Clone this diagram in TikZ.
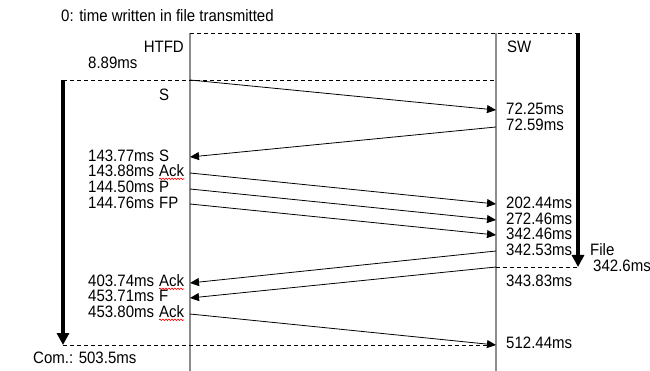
\documentclass[tikz,border=0pt]{standalone}
\usepackage{fontspec}
\setmainfont{Liberation Sans}[FakeStretch=0.91]
\usetikzlibrary{arrows.meta,decorations.pathmorphing}

\begin{document}
\begin{tikzpicture}[x=1pt,y=-1pt,font=\fontsize{16.5}{16.5}\selectfont]
\tikzset{lbl/.style={inner sep=0pt,text height=0.72em,text depth=0pt,anchor=west},
         life/.style={draw=gray!90,line width=1.3pt},
         msg/.style={line width=0.8pt,-{Triangle[length=9pt,width=8pt]}},
         dline/.style={line width=0.8pt,dash pattern=on 4pt off 3pt},
         bigarrow/.style={line width=3.5pt,-{Triangle[length=12pt,width=12pt]}},
         spell/.style={red,line width=0.6pt,decorate,decoration={snake,amplitude=0.8pt,segment length=3pt}}}

\useasboundingbox (0,0) rectangle (650,371);

% lifelines and frame
\coordinate (ht) at (190,33); \coordinate (hb) at (190,371);
\coordinate (st) at (496,33); \coordinate (sb) at (496,371);
\coordinate (ft) at (578,33); \coordinate (fb) at (578,267);
\coordinate (lt) at (63,80);  \coordinate (lb) at (63,345);
\coordinate (s0) at (496,80); \coordinate (f0) at (496,267);
\coordinate (e0) at (490,345);
\draw[life] (ht) -- (hb);
\draw[life] (st) -- (sb);
\draw[dline] (ht) -- (ft);
\draw[dline] (lt) -- (s0);
\draw[dline] (f0) -- (fb);
\draw[dline] (lb) -- (e0);
\draw[bigarrow] (ft) -- (fb);
\draw[bigarrow] (lt) -- (lb);

% messages
\coordinate (h1) at (190,80);  \coordinate (s1) at (496,110);
\coordinate (s2) at (496,127); \coordinate (h2) at (190,157);
\coordinate (h3) at (190,173); \coordinate (s3) at (496,204);
\coordinate (h4) at (190,189); \coordinate (s4) at (496,220);
\coordinate (h5) at (190,204); \coordinate (s5) at (496,235);
\coordinate (s6) at (496,251); \coordinate (h6) at (190,283);
\coordinate (s7) at (496,267); \coordinate (h7) at (190,298);
\coordinate (h8) at (190,314); \coordinate (s8) at (496,345);
\draw[msg] (h1) -- (s1);
\draw[msg] (s2) -- (h2);
\draw[msg] (h3) -- (s3);
\draw[msg] (h4) -- (s4);
\draw[msg] (h5) -- (s5);
\draw[msg] (s6) -- (h6);
\draw[msg] (s7) -- (h7);
\draw[msg] (h8) -- (s8);

% texts
\node[lbl] (title) at (61,18) {0: time written in file transmitted};
\node[lbl,anchor=east] (htfd) at (184,49) {HTFD};
\node[lbl] (sw) at (507,49) {SW};
\node[lbl] (t0) at (88,65) {8.89ms};
\node[lbl] (syn) at (159,97) {S};

\node[lbl] (t1) at (88,158) {143.77ms}; \node[lbl] (k1) at (159,158) {S};
\node[lbl] (t2) at (88,173) {143.88ms}; \node[lbl] (k2) at (159,173) {Ack};
\node[lbl] (t3) at (88,189) {144.50ms}; \node[lbl] (k3) at (159,189) {P};
\node[lbl] (t4) at (88,205) {144.76ms}; \node[lbl] (k4) at (159,205) {FP};
\node[lbl] (t5) at (88,283) {403.74ms}; \node[lbl] (k5) at (159,283) {Ack};
\node[lbl] (t6) at (88,298) {453.71ms}; \node[lbl] (k6) at (159,298) {F};
\node[lbl] (t7) at (88,314) {453.80ms}; \node[lbl] (k7) at (159,314) {Ack};
\node[lbl] (com) at (33,360) {Com.: 503.5ms};

\node[lbl] (r1) at (506,111) {72.25ms};
\node[lbl] (r2) at (506,127) {72.59ms};
\node[lbl] (r3) at (506,205) {202.44ms};
\node[lbl] (r4) at (506,221) {272.46ms};
\node[lbl] (r5) at (506,236) {342.46ms};
\node[lbl] (r6) at (506,252) {342.53ms};
\node[lbl] (r7) at (506,283) {343.83ms};
\node[lbl] (r8) at (506,345) {512.44ms};
\node[lbl] (file) at (590,252) {File};
\node[lbl] (tf) at (593,268) {342.6ms};

% spell check marks
\draw[spell] ([yshift=-2pt]k2.south west) -- ([yshift=-2pt]k2.south east);
\draw[spell] ([yshift=-2pt]k5.south west) -- ([yshift=-2pt]k5.south east);
\draw[spell] ([yshift=-2pt]k7.south west) -- ([yshift=-2pt]k7.south east);

\end{tikzpicture}
\end{document}
